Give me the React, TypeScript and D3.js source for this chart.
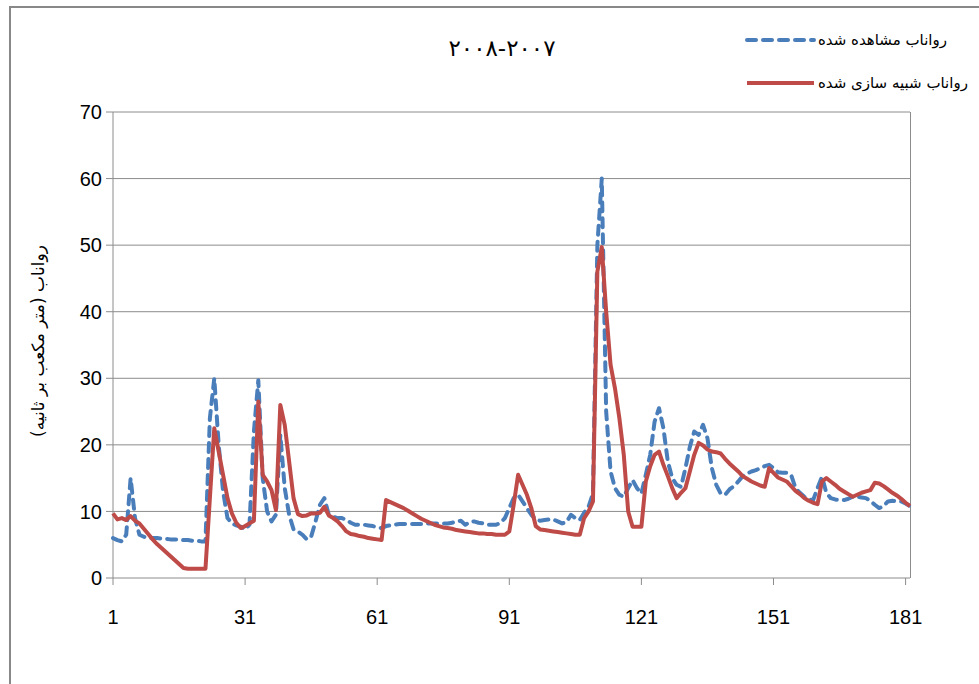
import { useEffect, useRef } from "react";
import * as d3 from "d3";

// daily runoff, water year 2007-2008 (m3/s)
const observed = [
  6.0, 5.7, 5.5, 6.5, 15.0, 9.0, 6.5, 6.2, 6.0, 6.0,
  6.0, 5.9, 5.9, 5.8, 5.8, 5.8, 5.7, 5.7, 5.6, 5.6,
  5.5, 5.5, 24.0, 30.0, 20.0, 13.0, 9.0, 8.2, 7.9, 7.7,
  7.3, 8.0, 22.0, 29.7, 15.0, 10.0, 8.5, 9.5, 21.5, 13.5,
  9.5, 7.3, 7.0, 6.5, 5.8, 6.2, 8.5, 11.0, 12.0, 9.5,
  9.2, 9.0, 9.0, 8.7, 8.3, 8.0, 8.0, 8.0, 7.9, 7.8,
  7.6, 7.5, 7.8, 7.9, 8.0, 8.1, 8.1, 8.1, 8.1, 8.1,
  8.1, 8.2, 8.2, 8.2, 8.2, 8.2, 8.2, 8.3, 8.5, 8.6,
  8.0, 8.4, 8.5, 8.3, 8.2, 8.0, 8.0, 8.0, 8.3, 9.0,
  10.5, 12.0, 12.5, 11.5, 10.5, 9.5, 8.8, 8.6, 8.7, 8.8,
  8.8, 8.5, 8.2, 8.4, 9.5, 9.0, 8.7, 9.8, 10.7, 12.7,
  50.0, 60.0, 25.0, 16.0, 13.5, 12.5, 12.2, 13.5, 14.7, 13.5,
  12.7, 15.5, 18.5, 23.5, 25.5, 22.5, 17.5, 15.0, 14.0, 13.7,
  16.5, 19.7, 22.0, 21.5, 23.0, 21.0, 16.5, 14.0, 12.7, 12.5,
  13.3, 13.8, 14.5, 15.3, 15.7, 16.0, 16.2, 16.5, 16.8, 17.0,
  16.5, 15.9, 15.8, 15.8, 15.5, 13.5, 12.8, 12.2, 11.8, 11.7,
  13.5, 15.2, 12.8, 12.0, 11.8, 11.7, 11.7, 11.9, 12.2, 12.2,
  12.1, 12.0, 11.6, 11.0, 10.5, 10.8, 11.5, 11.6, 11.5, 11.5,
  11.2, 10.8,
];

const simulated = [
  9.7, 8.8, 9.0, 8.7, 9.3, 8.6, 8.2, 7.4, 6.6, 5.8,
  5.1, 4.5, 3.9, 3.3, 2.7, 2.1, 1.5, 1.4, 1.4, 1.4,
  1.4, 1.4, 12.0, 22.5, 19.0, 15.5, 12.0, 9.7, 8.3, 7.5,
  7.8, 8.2, 8.6, 26.5, 15.5, 14.5, 13.2, 10.2, 26.0, 23.0,
  17.5, 12.0, 9.6, 9.3, 9.4, 9.7, 9.7, 9.8, 10.7, 9.4,
  9.0, 8.5, 7.8, 7.0, 6.6, 6.5, 6.3, 6.2, 6.0, 5.9,
  5.8, 5.7, 11.7, 11.4, 11.1, 10.8, 10.5, 10.1, 9.7, 9.3,
  8.9, 8.6, 8.3, 8.0, 7.8, 7.6, 7.5, 7.4, 7.2, 7.1,
  7.0, 6.9, 6.8, 6.7, 6.7, 6.6, 6.6, 6.5, 6.5, 6.5,
  7.0, 11.0, 15.5, 14.0, 12.5, 10.5, 7.8, 7.3, 7.2, 7.1,
  7.0, 6.9, 6.8, 6.7, 6.6, 6.5, 6.5, 9.0, 10.0, 11.5,
  46.0, 49.7, 40.0, 32.0, 28.5, 24.0, 18.5, 10.0, 7.7, 7.7,
  7.7, 14.5, 16.8, 18.5, 19.0, 17.0, 15.3, 13.5, 12.0, 12.8,
  13.5, 16.0, 18.5, 20.3, 19.9, 19.3, 19.0, 18.9, 18.7, 17.9,
  17.2, 16.6, 16.0, 15.3, 14.9, 14.5, 14.2, 13.9, 13.7, 16.5,
  15.8, 15.1, 14.8, 14.5, 13.8, 13.1, 12.6, 12.0, 11.6, 11.3,
  11.1, 14.5, 15.0, 14.5, 14.0, 13.4, 13.0, 12.6, 12.2, 12.5,
  12.8, 13.0, 13.2, 14.3, 14.2, 13.8, 13.3, 12.8, 12.4, 11.9,
  11.3, 10.8,
];

const xTicks = [1, 31, 61, 91, 121, 151, 181];
const yTicks = [0, 10, 20, 30, 40, 50, 60, 70];

const titleText = "۲۰۰۸-۲۰۰۷";
const yLabel = "رواناب (متر مکعب بر ثانیه)";
const legendObserved = "رواناب مشاهده شده";
const legendSimulated = "رواناب شبیه سازی شده";

const BLUE = "#4a7ebb";
const RED = "#be4b48";
const GRID = "#8c8c8c";

const App = () => {
  const ref = useRef<SVGSVGElement | null>(null);

  useEffect(() => {
    const svg = d3.select(ref.current);
    svg.selectAll("*").remove();

    const left = 113, right = 910, top = 112, bottom = 578;
    const x = d3.scaleLinear().domain([1, observed.length]).range([left, right]);
    const y = d3.scaleLinear().domain([0, 70]).range([bottom, top]);

    // outer frame
    svg.append("rect")
      .attr("x", 10).attr("y", 7)
      .attr("width", 1000).attr("height", 700)
      .attr("fill", "#fff")
      .attr("stroke", "#888").attr("stroke-width", 2);

    // horizontal gridlines
    svg.append("g")
      .selectAll("line")
      .data(yTicks.filter((t) => t > 0))
      .join("line")
      .attr("x1", left).attr("x2", right)
      .attr("y1", (d) => y(d)).attr("y2", (d) => y(d))
      .attr("stroke", GRID).attr("stroke-width", 1);

    // plot right border
    svg.append("line")
      .attr("x1", right + 0.5).attr("x2", right + 0.5)
      .attr("y1", top).attr("y2", bottom)
      .attr("stroke", GRID).attr("stroke-width", 1);

    // y axis
    const yAxis = svg.append("g");
    yAxis.append("line")
      .attr("x1", left).attr("x2", left)
      .attr("y1", top).attr("y2", bottom)
      .attr("stroke", GRID);
    yAxis.selectAll("line.tick")
      .data(yTicks)
      .join("line")
      .attr("class", "tick")
      .attr("x1", left - 7).attr("x2", left)
      .attr("y1", (d) => y(d)).attr("y2", (d) => y(d))
      .attr("stroke", GRID);
    yAxis.selectAll("text")
      .data(yTicks)
      .join("text")
      .attr("x", left - 11)
      .attr("y", (d) => y(d))
      .attr("dy", "0.36em")
      .attr("text-anchor", "end")
      .attr("font-family", "Liberation Sans, Arial, sans-serif")
      .attr("font-size", 20)
      .attr("fill", "#000")
      .text((d) => d);

    // x axis
    const xAxis = svg.append("g");
    xAxis.append("line")
      .attr("x1", left).attr("x2", right)
      .attr("y1", bottom).attr("y2", bottom)
      .attr("stroke", GRID);
    xAxis.selectAll("line.tick")
      .data(xTicks)
      .join("line")
      .attr("class", "tick")
      .attr("x1", (d) => x(d)).attr("x2", (d) => x(d))
      .attr("y1", bottom).attr("y2", bottom + 7)
      .attr("stroke", GRID);
    xAxis.selectAll("text")
      .data(xTicks)
      .join("text")
      .attr("x", (d) => x(d))
      .attr("y", bottom + 46)
      .attr("text-anchor", "middle")
      .attr("font-family", "Liberation Sans, Arial, sans-serif")
      .attr("font-size", 20)
      .attr("fill", "#000")
      .text((d) => d);

    const line = d3.line<number>()
      .x((d, i) => x(i + 1))
      .y((d) => y(d));

    svg.append("path")
      .datum(observed)
      .attr("d", line)
      .attr("fill", "none")
      .attr("stroke", BLUE)
      .attr("stroke-width", 4)
      .attr("stroke-dasharray", "9 7")
      .attr("stroke-linecap", "round")
      .attr("stroke-linejoin", "round");

    svg.append("path")
      .datum(simulated)
      .attr("d", line)
      .attr("fill", "none")
      .attr("stroke", RED)
      .attr("stroke-width", 4)
      .attr("stroke-linejoin", "round");

    // title
    svg.append("text")
      .attr("x", 502).attr("y", 56)
      .attr("text-anchor", "middle")
      .attr("font-family", "DejaVu Sans, sans-serif")
      .attr("font-size", 23)
      .attr("letter-spacing", 3)
      .attr("fill", "#000")
      .text(titleText);

    // y label
    svg.append("text")
      .attr("transform", "translate(44,341) rotate(-90)")
      .attr("text-anchor", "middle")
      .attr("direction", "rtl")
      .attr("font-family", "DejaVu Sans, sans-serif")
      .attr("font-size", 17)
      .attr("fill", "#000")
      .text(yLabel);

    // legend
    const legend = svg.append("g");
    const items = [
      { label: legendObserved, color: BLUE, dash: "9 7", cy: 40 },
      { label: legendSimulated, color: RED, dash: null, cy: 83 },
    ];
    items.forEach((it) => {
      legend.append("line")
        .attr("x1", 747).attr("x2", 814)
        .attr("y1", it.cy).attr("y2", it.cy)
        .attr("stroke", it.color)
        .attr("stroke-width", 4)
        .attr("stroke-linecap", it.dash ? "round" : "butt")
        .attr("stroke-dasharray", it.dash);
      legend.append("text")
        .attr("x", 818).attr("y", it.cy + 5)
        .attr("text-anchor", "start")
        .attr("font-family", "DejaVu Sans, sans-serif")
        .attr("font-size", 15)
        .attr("fill", "#000")
        .text(it.label);
    });
  }, []);

  return (
    <svg
      ref={ref}
      width={979}
      height={684}
      style={{ position: "absolute", left: 0, top: 0, background: "#fff" }}
    />
  );
};

export default App;
